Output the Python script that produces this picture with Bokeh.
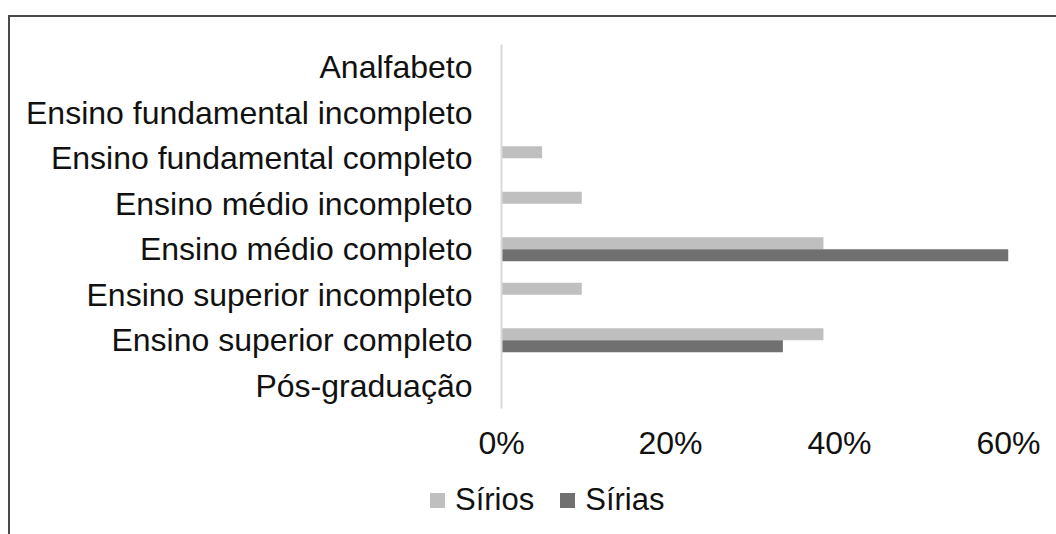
from bokeh.plotting import figure
from bokeh.layouts import column
from bokeh.models import FactorRange, ColumnDataSource, NumeralTickFormatter, FixedTicker, Div
from bokeh.transform import dodge
from bokeh.embed import file_html
from bokeh.resources import INLINE

categories = ["Analfabeto", "Ensino fundamental incompleto", "Ensino fundamental completo",
              "Ensino médio incompleto", "Ensino médio completo", "Ensino superior incompleto",
              "Ensino superior completo", "Pós-graduação"]
sirios = [0.0, 0.0, 0.048, 0.095, 0.381, 0.095, 0.381, 0.0]
sirias = [0.0, 0.0, 0.0, 0.0, 0.60, 0.0, 0.333, 0.0]
ticks = [0, 0.2, 0.4, 0.6]
series_names = ["Sírios", "Sírias"]
series_colors = ["#bfbfbf", "#707070"]

FONT = "Liberation Sans"
src = ColumnDataSource(dict(cat=categories, sirios=sirios, sirias=sirias))

p = figure(width=1040, height=455, output_backend="svg", toolbar_location=None,
           y_range=FactorRange(*reversed(categories)), x_range=(0, 0.6),
           min_border_left=491, min_border_right=42, min_border_top=27, min_border_bottom=64)
p.outline_line_color = None
p.grid.visible = False

p.hbar(y=dodge("cat", 0.132, range=p.y_range), right="sirios", left=0, height=0.264,
       source=src, fill_color=series_colors[0], line_color=None)
p.hbar(y=dodge("cat", -0.132, range=p.y_range), right="sirias", left=0, height=0.264,
       source=src, fill_color=series_colors[1], line_color=None)

p.xaxis.ticker = FixedTicker(ticks=ticks)
p.xaxis.formatter = NumeralTickFormatter(format="0%")
p.xaxis.axis_line_color = None
p.xaxis.major_tick_line_color = None
p.xaxis.minor_tick_line_color = None
p.xaxis.major_label_text_font = FONT
p.xaxis.major_label_text_font_size = "32px"
p.xaxis.major_label_text_color = "#111111"
p.xaxis.major_label_standoff = 10

p.yaxis.axis_line_color = "#d9d9d9"
p.yaxis.axis_line_width = 2
p.yaxis.major_tick_line_color = None
p.yaxis.minor_tick_line_color = None
p.yaxis.major_label_text_font = FONT
p.yaxis.major_label_text_font_size = "32px"
p.yaxis.major_label_text_color = "#111111"
p.yaxis.major_label_standoff = 23

# legend strip (HTML)
parts = []
for i, (name, col) in enumerate(zip(series_names, series_colors)):
    ml = "0" if i == 0 else "26px"
    parts.append(
        f'<span style="display:inline-block;width:15px;height:15px;background:{col};'
        f'margin-left:{ml};margin-right:10px;"></span>'
        f'<span style="font-family:\'{FONT}\';font-size:31px;line-height:32px;color:#111111;">{name}</span>'
    )
html = ('<div style="display:flex;align-items:center;height:32px;padding-left:415px;padding-top:14px;">'
        + "".join(parts) + '</div>')
leg = Div(text=html, width=1040, height=60)

layout = column(p, leg, spacing=0)
layout.margin = (15, 0, 0, 8)
layout.styles = {"border-top": "2px solid #4a4a4a", "border-left": "2px solid #4a4a4a"}

open("out.html", "w").write(file_html(layout, INLINE))
